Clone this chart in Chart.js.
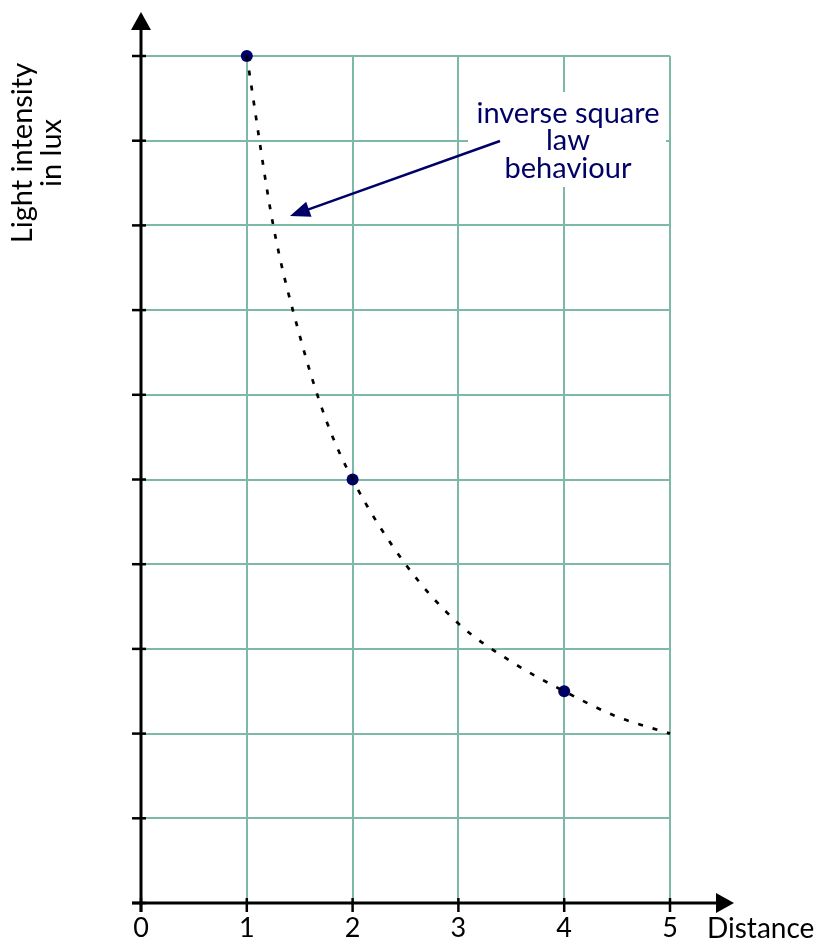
<!DOCTYPE html>
<html>
<head>
<meta charset="utf-8">
<script src="https://cdn.jsdelivr.net/npm/chart.js@4.4.1/dist/chart.umd.min.js"></script>
<style>
  html, body { margin: 0; padding: 0; background: #fff; }
  #wrap { width: 823px; height: 944px; }
</style>
</head>
<body>
<div id="wrap"><canvas id="kaavio" width="823" height="944"></canvas></div>
<script>
// Mitatut pisteet
const mittausX = [1, 2, 4];
const mittausY = [10, 5, 2.5];

// Katkoviivakäyrä luettuna kuvasta
const kayraX = [1, 1.25, 1.5, 1.75, 2, 2.5, 3, 3.5, 4, 4.5, 5];
const kayraY = [10, 8, 6.7, 5.7, 5, 4, 3.3, 2.85, 2.5, 2.2, 2];

// Akselien merkinnät
const xTikit = [0, 1, 2, 3, 4, 5];
const yTikit = [0, 1, 2, 3, 4, 5, 6, 7, 8, 9, 10];

const fontti = "Lato, 'Open Sans', sans-serif";
const navy = "#000066";
const ruudukko = "#7db8a9";

// Piirretään akselit, nuolet, tekstit ja selite
const koristeet = {
  id: "koristeet",
  afterDraw(chart) {
    const c = chart.ctx;
    const xs = chart.scales.x;
    const ys = chart.scales.y;
    const x0 = xs.getPixelForValue(0);
    const y0 = ys.getPixelForValue(0);
    c.save();
    c.strokeStyle = "#000";
    c.fillStyle = "#000";
    c.lineWidth = 3;

    // y-akseli
    c.beginPath();
    c.moveTo(x0, y0 + 9);
    c.lineTo(x0, 28);
    c.stroke();
    c.beginPath();
    c.moveTo(x0, 12);
    c.lineTo(x0 - 10, 30);
    c.lineTo(x0 + 10, 30);
    c.closePath();
    c.fill();

    // x-akseli
    c.beginPath();
    c.moveTo(x0 - 9, y0);
    c.lineTo(718, y0);
    c.stroke();
    c.beginPath();
    c.moveTo(734, y0);
    c.lineTo(716, y0 - 10);
    c.lineTo(716, y0 + 10);
    c.closePath();
    c.fill();

    // tikit
    c.lineWidth = 2.5;
    yTikit.forEach(v => {
      const py = ys.getPixelForValue(v);
      c.beginPath();
      c.moveTo(x0 - 9, py);
      c.lineTo(x0 + 5, py);
      c.stroke();
    });
    xTikit.forEach(v => {
      const px = xs.getPixelForValue(v);
      c.beginPath();
      c.moveTo(px, y0 - 5);
      c.lineTo(px, y0 + 9);
      c.stroke();
    });

    // x-tikkien tekstit
    c.font = "27px " + fontti;
    c.textAlign = "center";
    c.textBaseline = "alphabetic";
    xTikit.forEach(v => {
      c.fillText(String(v), xs.getPixelForValue(v), 937);
    });
    c.textAlign = "left";
    c.font = "28px " + fontti;
    c.fillText("Distance", 707, 938);

    // y-akselin otsikko
    c.save();
    c.translate(0, 153);
    c.rotate(-Math.PI / 2);
    c.textAlign = "center";
    c.font = "29px " + fontti;
    c.fillText("Light intensity", 0, 32);
    c.fillText("in lux", 0, 61);
    c.restore();

    // selitelaatikko
    c.fillStyle = "#fff";
    c.fillRect(468, 92, 198, 95);
    c.fillStyle = navy;
    c.font = "29px " + fontti;
    c.textAlign = "center";
    c.fillText("inverse square", 568, 123);
    c.fillText("law", 568, 150);
    c.fillText("behaviour", 568, 178);

    // nuoli
    c.strokeStyle = navy;
    c.lineWidth = 2.5;
    const ax = 500, ay = 141, bx = 290, by = 216;
    const kulma = Math.atan2(by - ay, bx - ax);
    c.beginPath();
    c.moveTo(ax, ay);
    c.lineTo(bx - 16 * Math.cos(kulma), by - 16 * Math.sin(kulma));
    c.stroke();
    c.beginPath();
    c.moveTo(bx, by);
    c.lineTo(bx - 20 * Math.cos(kulma) + 8 * Math.sin(kulma), by - 20 * Math.sin(kulma) - 8 * Math.cos(kulma));
    c.lineTo(bx - 20 * Math.cos(kulma) - 8 * Math.sin(kulma), by - 20 * Math.sin(kulma) + 8 * Math.cos(kulma));
    c.closePath();
    c.fill();
    c.restore();
  }
};

const ctx = document.querySelector("#kaavio").getContext("2d");
new Chart(ctx, {
  type: "scatter",
  data: {
    datasets: [
      {
        label: "käyrä",
        data: kayraX.map((x, i) => ({ x: x, y: kayraY[i] })),
        showLine: true,
        borderColor: "#000",
        borderWidth: 2.7,
        borderDash: [5, 10],
        pointRadius: 0,
        cubicInterpolationMode: "monotone",
        fill: false,
        clip: false
      },
      {
        label: "mittaukset",
        data: mittausX.map((x, i) => ({ x: x, y: mittausY[i] })),
        showLine: false,
        pointRadius: 6,
        pointBackgroundColor: navy,
        pointBorderColor: navy,
        pointBorderWidth: 0,
        clip: false
      }
    ]
  },
  options: {
    responsive: false,
    animation: false,
    devicePixelRatio: 1,
    layout: { padding: { left: 141, right: 153, top: 56, bottom: 41 } },
    plugins: { legend: { display: false }, tooltip: { enabled: false } },
    scales: {
      x: {
        type: "linear", min: 0, max: 5,
        ticks: { display: false, stepSize: 1 },
        border: { display: false },
        grid: { color: ruudukko, lineWidth: 2, drawTicks: false }
      },
      y: {
        type: "linear", min: 0, max: 10,
        ticks: { display: false, stepSize: 1 },
        border: { display: false },
        grid: { color: ruudukko, lineWidth: 2, drawTicks: false }
      }
    }
  },
  plugins: [koristeet]
});
</script>
</body>
</html>
